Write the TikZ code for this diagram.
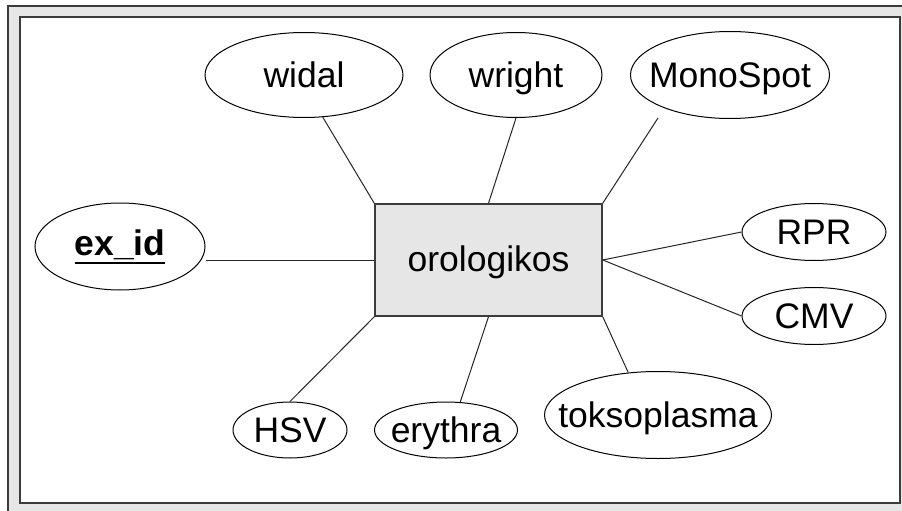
\documentclass[tikz,border=0pt]{standalone}
\usepackage{fontspec}
\setmainfont{Liberation Sans}
\usetikzlibrary{shapes.geometric}
\definecolor{panelgray}{HTML}{E6E6E6}
\definecolor{edgegray}{HTML}{3C3C3C}
% label set with zero size so the ellipse keeps its given size
\newcommand\lbl[2][-12.7pt]{\raisebox{#1}[0pt][0pt]{\makebox[0pt]{#2}}}
% underlined key attribute with a thick rule
\newcommand\keyattr[1]{\setbox0\hbox{#1}\rlap{\rule[-9.3pt]{\wd0}{2.6pt}}\box0}
\tikzset{
  attr/.style={ellipse, draw=black, line width=1pt, inner sep=0pt,
    font=\fontsize{35.5}{40}\selectfont},
  entity/.style={rectangle, draw=edgegray, fill=panelgray, line width=1.5pt,
    minimum width=227pt, minimum height=112pt, inner sep=0pt,
    font=\fontsize{35.5}{40}\selectfont, text height=22pt, text depth=0pt},
  link/.style={draw=black!85, line width=1pt},
}
\begin{document}
\begin{tikzpicture}[x=1pt, y=-1pt]
  \useasboundingbox (0,0) rectangle (902,511);
  % window frame
  \fill[panelgray] (8,6) rectangle (902,511);
  \draw[edgegray, line width=1.5pt] (8,511) -- (8,6) -- (902,6);
  \draw[edgegray, fill=white, line width=1.5pt] (20,17) rectangle (900,503);

  % entity
  \node[entity] (box) at (488.5,260) {orologikos};

  % attributes
  \node[attr, minimum width=198pt, minimum height=85pt] (widal) at (304,75) {\lbl{widal}};
  \node[attr, minimum width=172pt, minimum height=85pt] (wright) at (516,75) {\lbl{wright}};
  \node[attr, minimum width=199pt, minimum height=87pt] (mono) at (730,75) {\lbl{MonoSpot}};
  \node[attr, minimum width=170pt, minimum height=87pt,
        font=\fontsize{35.5}{40}\selectfont\bfseries] (exid) at (120,246.5) {\lbl[-8.5pt]{\keyattr{ex\_id}}};
  \node[attr, minimum width=144pt, minimum height=57pt] (rpr) at (814,232) {\lbl{RPR}};
  \node[attr, minimum width=144pt, minimum height=57pt] (cmv) at (814,316) {\lbl{CMV}};
  \node[attr, minimum width=114pt, minimum height=56pt] (hsv) at (290,430) {\lbl{HSV}};
  \node[attr, minimum width=143pt, minimum height=56pt] (ery) at (446,430) {\lbl{erythra}};
  \node[attr, minimum width=227pt, minimum height=87pt] (toks) at (658,415) {\lbl{toksoplasma}};

  % loose end of the MonoSpot link
  \coordinate (monotail) at ([shift={(-72,43)}]mono.center);

  % links
  \draw[link] (box.north west) -- (widal.-66);
  \draw[link] (box.north) -- (wright.south);
  \draw[link] (box.north east) -- (monotail);
  \draw[link] (box.west) -- (box.west -| exid.east);
  \draw[link] (box.east) -- (rpr.west);
  \draw[link] (box.east) -- (cmv.west);
  \draw[link] (box.south west) -- (hsv.north);
  \draw[link] (box.south) -- (ery.63);
  \draw[link] (box.south east) -- (toks.125);
\end{tikzpicture}
\end{document}
